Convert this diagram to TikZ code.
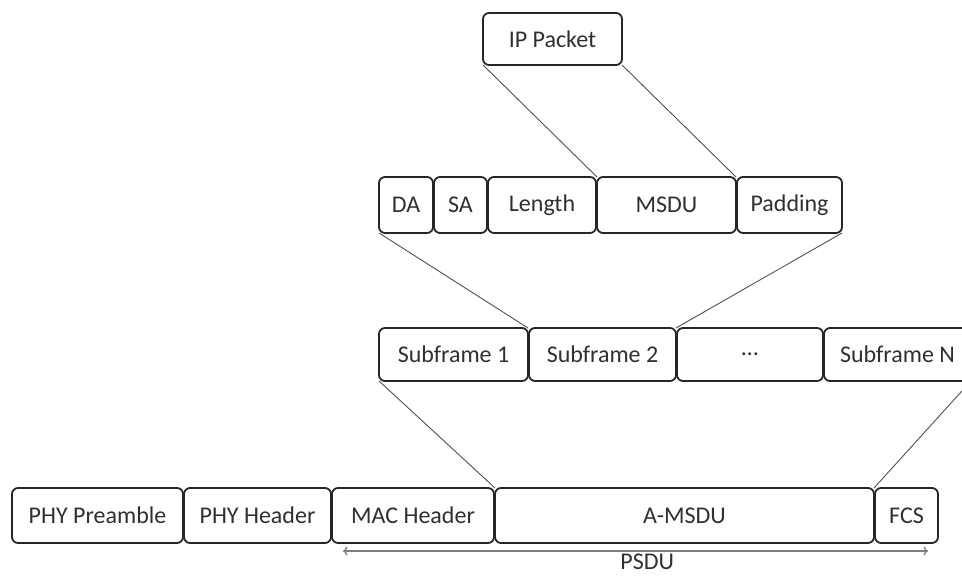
\documentclass[tikz,border=0pt]{standalone}
\usepackage{fontspec}
\setmainfont{Carlito}
\usepackage{tikz}
\usetikzlibrary{arrows.meta,positioning}
\definecolor{PkInk}{HTML}{262626}
\definecolor{PkText}{HTML}{303030}
\definecolor{PkLine}{HTML}{505050}
\definecolor{PkSpan}{HTML}{808080}
\tikzset{
  pkbox/.style={rectangle, rounded corners=3pt, draw=PkInk, line width=0.9pt,
    fill=white, text=PkText, inner sep=0pt, outer sep=0pt, align=center},
  pkrow2/.style={pkbox, minimum height=28pt},
  pkrow3/.style={pkbox, minimum height=26.5pt},
  pkrow4/.style={pkbox, minimum height=27.5pt},
  pkline/.style={draw=PkLine, line width=0.45pt},
  pkspan/.style={{To[length=2.2pt,width=4.5pt]}-{To[length=2.2pt,width=4.5pt]},
    draw=PkSpan, line width=0.7pt}
}
\begin{document}
\begin{tikzpicture}[x=0.5pt, y=-0.5pt, node distance=0.5pt, font=\fontsize{12pt}{14pt}\selectfont]
  \clip (0,0) rectangle (962,577);

  % IP packet
  \node[pkbox, minimum width=69.5pt, minimum height=26pt] (ip) at (552.5,39) {IP Packet};

  % subframe fields
  \node[pkrow2, minimum width=27pt, anchor=west] (da) at (379,205) {DA};
  \node[pkrow2, minimum width=26.5pt, right=of da] (sa) {SA};
  \node[pkrow2, minimum width=54pt, right=of sa] (len) {Length};
  \node[pkrow2, minimum width=69.5pt, right=of len] (msdu) {MSDU};
  \node[pkrow2, minimum width=52.5pt, right=of msdu] (pad) {Padding};

  % A-MSDU subframes
  \node[pkrow3, minimum width=74.5pt, anchor=west] (sub1) at (379,354.5) {Subframe 1};
  \node[pkrow3, minimum width=73.5pt, right=of sub1] (sub2) {Subframe 2};
  \node[pkrow3, minimum width=73pt, right=of sub2] (subdots) {\dots};
  \node[pkrow3, minimum width=73.5pt, right=of subdots] (subN) {Subframe N};

  % PPDU
  \node[pkrow4, minimum width=85.5pt, anchor=west] (pre) at (12,515.5) {PHY Preamble};
  \node[pkrow4, minimum width=73.5pt, right=of pre] (phyhdr) {PHY Header};
  \node[pkrow4, minimum width=81pt, right=of phyhdr] (machdr) {MAC Header};
  \node[pkrow4, minimum width=189.5pt, right=of machdr] (amsdu) {A-MSDU};
  \node[pkrow4, minimum width=31.5pt, right=of amsdu] (fcs) {FCS};

  \draw[pkline] (ip.south west)--(msdu.north west);
  \draw[pkline] (ip.south east)--(msdu.north east);
  \draw[pkline] (da.south west)--(sub1.north east);
  \draw[pkline] (pad.south east)--(sub2.north east);
  \draw[pkline] (sub1.south west)--(amsdu.north west);
  \draw[pkline] (subN.south east)--(amsdu.north east);

  \coordinate (psduL) at ([xshift=5.5pt,yshift=-4pt]machdr.south west);
  \coordinate (psduR) at ([xshift=-5pt,yshift=-4pt]fcs.south east);
  \draw[pkspan] (psduL) -- node[pos=0.52, below=0.5pt, inner sep=0.5pt, text=PkText] {PSDU} (psduR);
\end{tikzpicture}
\end{document}
